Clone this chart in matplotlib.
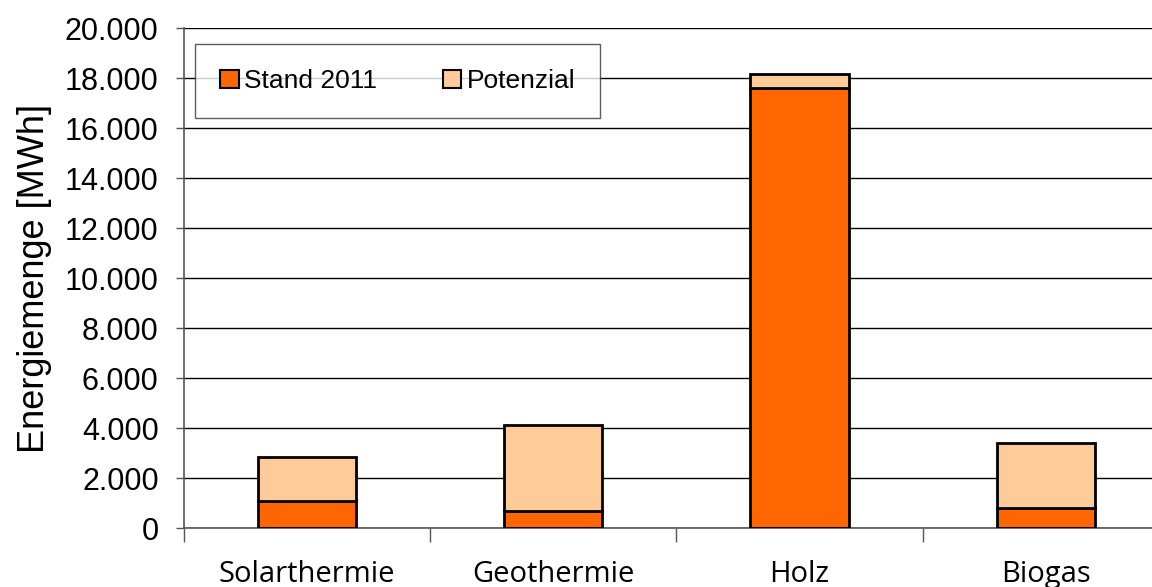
import matplotlib
matplotlib.use("Agg")
import matplotlib.pyplot as plt
from matplotlib.ticker import FuncFormatter, MultipleLocator

categories = ["Solarthermie", "Geothermie", "Holz", "Biogas"]
stand_2011 = [1090, 680, 17610, 790]
potenzial = [1750, 3440, 540, 2620]

plt.rcParams["font.family"] = ["Liberation Sans", "DejaVu Sans"]

fig = plt.figure(figsize=(11.52, 5.87), dpi=100)
ax = fig.add_axes([0.1595, 0.1005, 0.8552, 0.8515])

x = list(range(len(categories)))
width = 0.4
ax.bar(x, stand_2011, width, color="#FF6600", edgecolor="black", linewidth=2,
       label="Stand 2011", zorder=3)
ax.bar(x, potenzial, width, bottom=stand_2011, color="#FFCC99",
       edgecolor="black", linewidth=2, label="Potenzial", zorder=3)

ax.set_xlim(-0.5, 3.5)
ax.set_ylim(0, 20000)
ax.yaxis.set_major_locator(MultipleLocator(2000))
ax.yaxis.set_major_formatter(FuncFormatter(lambda v, p: f"{int(v):,}".replace(",", ".")))
ax.yaxis.grid(True, color="black", linewidth=1, zorder=0)
ax.set_axisbelow(True)

ax.set_xticks([i - 0.5 for i in x], minor=False)
ax.set_xticklabels([])
ax.set_xticks(x, minor=True)
ax.set_xticklabels(categories, minor=True, fontsize=21,
                   family=["Open Sans", "DejaVu Sans"])
ax.tick_params(axis="x", which="minor", length=0, pad=23)
ax.tick_params(axis="x", which="major", length=10, width=1, color="#555555",
               direction="out")
ax.tick_params(axis="y", length=6, width=1, color="#555555", labelsize=22, pad=12)

for side in ["top", "right"]:
    ax.spines[side].set_visible(False)
ax.spines["left"].set_color("#555555")
ax.spines["bottom"].set_color("#555555")
ax.spines["left"].set_linewidth(1.2)
ax.spines["bottom"].set_linewidth(1.2)

ax.set_ylabel("Energiemenge [MWh]", fontsize=26, labelpad=9)

leg = ax.legend(loc="upper left", bbox_to_anchor=(0.0114, 0.968), ncol=2,
                fontsize=19, frameon=True, fancybox=False, handlelength=0.7,
                handleheight=0.7, handletextpad=0.2, columnspacing=2.5,
                borderpad=0.95, borderaxespad=0)
leg.get_frame().set_edgecolor("#333333")
leg.get_frame().set_linewidth(1)
for h in leg.legend_handles:
    h.set_linewidth(1.5)

fig.savefig("out.png", dpi=100)
